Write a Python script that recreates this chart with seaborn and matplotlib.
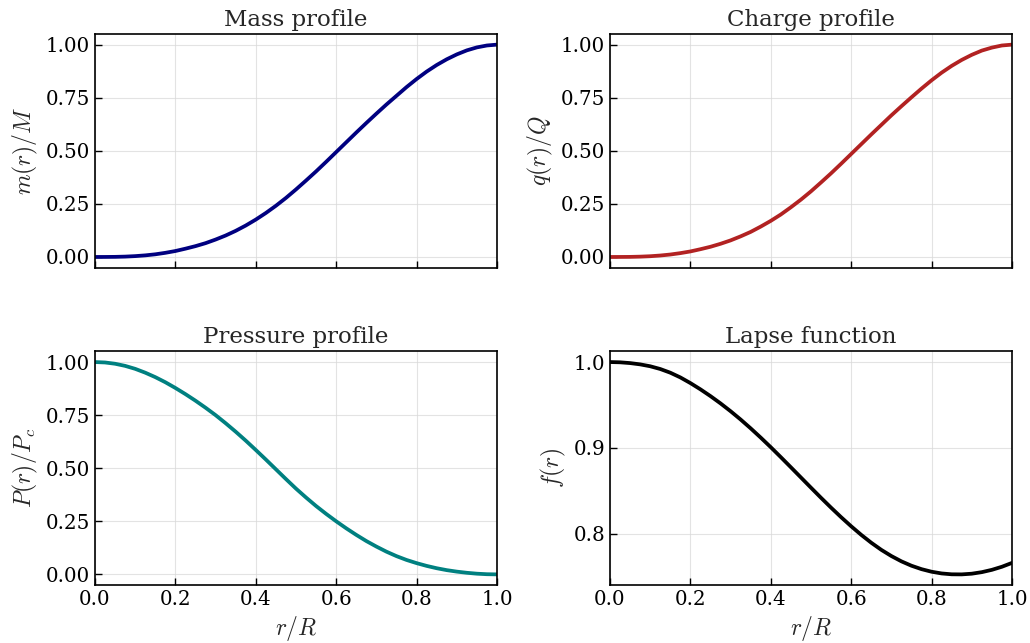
import matplotlib
matplotlib.use("Agg")
import matplotlib.pyplot as plt
import pandas as pd
import seaborn as sns

# r/R sample points and profile values
r_over_R = [0.000, 0.025, 0.050, 0.075, 0.100, 0.125, 0.150, 0.175, 0.200, 0.225,
            0.250, 0.275, 0.300, 0.325, 0.350, 0.375, 0.400, 0.425, 0.450, 0.475,
            0.500, 0.525, 0.550, 0.575, 0.600, 0.625, 0.650, 0.675, 0.700, 0.725,
            0.750, 0.775, 0.800, 0.825, 0.850, 0.875, 0.900, 0.925, 0.950, 0.975,
            1.000]

mass = [0.0000, 0.0001, 0.0005, 0.0017, 0.0040, 0.0075, 0.0125, 0.0195, 0.028, 0.039,
        0.051, 0.065, 0.082, 0.101, 0.123, 0.148, 0.176, 0.207, 0.241, 0.278,
        0.318, 0.360, 0.403, 0.448, 0.494, 0.540, 0.586, 0.631, 0.675, 0.718,
        0.759, 0.800, 0.838, 0.873, 0.904, 0.931, 0.954, 0.973, 0.987, 0.996,
        1.000]

charge = [0.0000, 0.0001, 0.0004, 0.0015, 0.0035, 0.0068, 0.0115, 0.018, 0.026, 0.0365,
          0.048, 0.062, 0.078, 0.097, 0.118, 0.143, 0.170, 0.200, 0.234, 0.270,
          0.309, 0.351, 0.394, 0.439, 0.485, 0.531, 0.577, 0.622, 0.667, 0.710,
          0.752, 0.793, 0.832, 0.868, 0.900, 0.928, 0.952, 0.972, 0.986, 0.996,
          1.000]

pressure = [1.000, 0.998, 0.992, 0.982, 0.968, 0.950, 0.929, 0.905, 0.878, 0.849,
            0.818, 0.785, 0.750, 0.712, 0.672, 0.630, 0.586, 0.541, 0.495, 0.449,
            0.404, 0.362, 0.322, 0.285, 0.250, 0.217, 0.186, 0.157, 0.131, 0.107,
            0.086, 0.068, 0.053, 0.040, 0.029, 0.020, 0.013, 0.0075, 0.0033, 0.0008,
            0.000]

lapse = [1.0000, 0.9997, 0.9988, 0.9973, 0.9951, 0.9919, 0.9876, 0.9821, 0.9755, 0.9682,
         0.9603, 0.9518, 0.9427, 0.9330, 0.9227, 0.9119, 0.9007, 0.8891, 0.8773, 0.8654,
         0.8535, 0.8417, 0.8302, 0.8191, 0.8085, 0.7985, 0.7893, 0.7810, 0.7738, 0.7676,
         0.7625, 0.7585, 0.7555, 0.7535, 0.7525, 0.7524, 0.7532, 0.7550, 0.7577, 0.7613,
         0.7658]

panels = [
    ("Mass profile", mass, "#000080", r"$m(r)/M$"),
    ("Charge profile", charge, "#b22222", r"$q(r)/Q$"),
    ("Pressure profile", pressure, "#008080", r"$P(r)/P_c$"),
    ("Lapse function", lapse, "#000000", r"$f(r)$"),
]

sns.set_theme(style="white")
plt.rcParams["font.family"] = ["DejaVu Serif"]
plt.rcParams["mathtext.fontset"] = "cm"

fig, axes = plt.subplots(2, 2, figsize=(10.3, 6.43), dpi=100, sharex=True)
fig.subplots_adjust(left=0.0922, right=0.9825, top=0.9471, bottom=0.0902,
                    wspace=0.281, hspace=0.359)

for ax, (title, vals, colour, ylab) in zip(axes.flat, panels):
    df = pd.DataFrame({"r": r_over_R, "v": vals})
    sns.lineplot(data=df, x="r", y="v", color=colour, lw=2.7, ax=ax)
    ax.set_title(title, fontsize=16.5)
    ax.set_ylabel(ylab, fontsize=17)
    ax.set_xlabel("")
    ax.set_xlim(0, 1)
    ax.grid(True, color="#d8d8d8", lw=0.8, alpha=0.7)
    ax.tick_params(direction="in", labelsize=14.3, length=5, width=1.0,
                   colors="black", left=True, bottom=True)
    for sp in ax.spines.values():
        sp.set_color("black")
        sp.set_linewidth(1.2)

for ax in (axes[0, 0], axes[0, 1], axes[1, 0]):
    ax.set_yticks([0.0, 0.25, 0.5, 0.75, 1.0])
axes[1, 1].set_yticks([0.8, 0.9, 1.0])
for ax in axes[1]:
    ax.set_xticks([0.0, 0.2, 0.4, 0.6, 0.8, 1.0])
    ax.set_xlabel(r"$r/R$", fontsize=17)

fig.savefig("out.png", dpi=100)
